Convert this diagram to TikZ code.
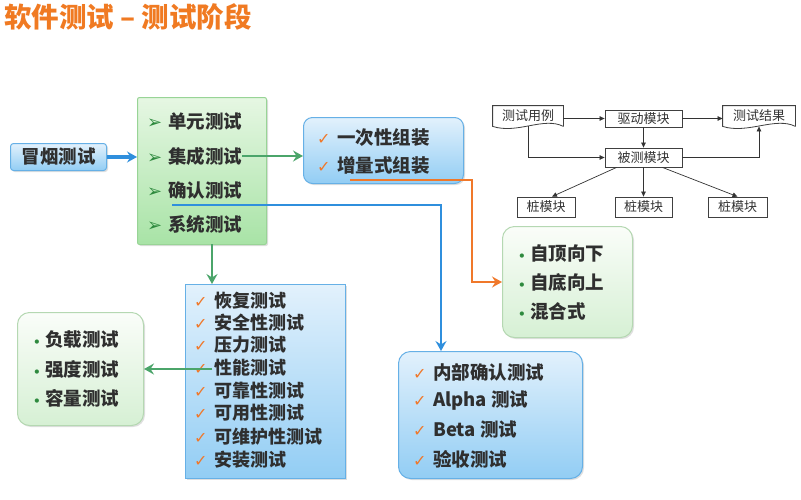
\documentclass[tikz,border=0pt]{standalone}
\usepackage{fontspec}
\setmainfont{Noto Sans CJK SC}
\newfontfamily\dejavu{DejaVu Sans}
\usetikzlibrary{arrows.meta,shadows}

\definecolor{titleorange}{HTML}{F07A22}
\definecolor{textgray}{HTML}{2F2F2F}
\definecolor{boxblue}{HTML}{66B0E6}
\definecolor{blueup}{HTML}{E2F1FC}
\definecolor{bluedown}{HTML}{92CDF4}
\definecolor{boxgreen}{HTML}{98D496}
\definecolor{greenup}{HTML}{E6F7E3}
\definecolor{greendown}{HTML}{A8E3A6}
\definecolor{paleedge}{HTML}{B5D8B2}
\definecolor{paleup}{HTML}{FAFDF9}
\definecolor{paledown}{HTML}{D6F0D4}
\definecolor{arrowgreen}{HTML}{4BA56A}
\definecolor{arrowblue}{HTML}{2F8FDD}
\definecolor{arroworange}{HTML}{F0782A}
\definecolor{markgreen}{HTML}{2E8A3E}

\newcommand\tickmark{\makebox[20pt][l]{\dejavu\fontsize{16}{16}\selectfont\color{arroworange}✓}}
\newcommand\pointmark{\makebox[21pt][l]{\dejavu\fontsize{18}{18}\selectfont\color{markgreen}➢}}
\newcommand\dotmark{\makebox[12pt][l]{\dejavu\fontsize{12}{12}\selectfont\color{markgreen}•}}

\tikzset{
    % standard arrow tip
    >={Stealth[length=10pt,width=11pt,inset=3.5pt]},
    % boxes
    bluebox/.style={
           rectangle,
           draw=boxblue,
           line width=1pt,
           top color=blueup,
           bottom color=bluedown,
           anchor=north west,
           inner sep=0pt,
           drop shadow={opacity=0.25,shadow xshift=1.5pt,shadow yshift=-1.5pt}},
    greenbox/.style={
           bluebox,
           draw=boxgreen,
           top color=greenup,
           bottom color=greendown},
    palebox/.style={
           bluebox,
           draw=paleedge,
           top color=paleup,
           bottom color=paledown,
           rounded corners=12pt},
    % list entries
    entry/.style={
           anchor=west,
           inner sep=0pt,
           text=textgray,
           font=\bfseries\fontsize{18.5}{20}\selectfont},
    % small module diagram
    modbox/.style={
           rectangle,
           draw=black!75,
           line width=0.8pt,
           inner sep=0pt,
           text=black!80,
           font=\fontsize{13}{13}\selectfont},
    modarrow/.style={
           -{Triangle[length=5pt,width=4.5pt]},
           line width=0.7pt,
           draw=black!80},
    % thick connectors
    pil/.style={
           ->,
           line width=2.8pt}
}

\begin{document}
\begin{tikzpicture}[x=1pt,y=-1pt]
  \path[use as bounding box,fill=white] (0,0) rectangle (801,499);

  \node[anchor=west,inner sep=0pt,text=titleorange,
        font=\bfseries\fontsize{27.5}{28}\selectfont] (title) at (4,17) {软件测试 – 测试阶段};

  % boxes
  \node[bluebox,rounded corners=3pt,minimum width=96pt,minimum height=27pt,
        text=textgray,font=\bfseries\fontsize{18.5}{20}\selectfont] (smoke) at (10,143) {冒烟测试};
  \node[greenbox,rounded corners=2pt,minimum width=129pt,minimum height=147pt] (stagebox) at (137,97) {};
  \node[bluebox,rounded corners=9pt,minimum width=160pt,minimum height=66pt] (assembly) at (303,117) {};
  \node[palebox,minimum width=130pt,minimum height=111pt] (topdown) at (502,226) {};
  \node[bluebox,rounded corners=12pt,minimum width=184pt,minimum height=127pt] (accept) at (398,351) {};
  \node[bluebox,minimum width=160pt,minimum height=194pt] (systype) at (185,284) {};
  \node[palebox,minimum width=126pt,minimum height=113pt] (load) at (17,312) {};

  % entries
  \node[entry] (unit) at (147,122) {\pointmark 单元测试};
  \node[entry] (integ) at (147,156) {\pointmark 集成测试};
  \node[entry] (confirm) at (147,190) {\pointmark 确认测试};
  \node[entry] (system) at (147,224) {\pointmark 系统测试};

  \node[entry] (once) at (317,138) {\tickmark 一次性组装};
  \node[entry] (incr) at (317,165) {\tickmark 增量式组装};

  \node[entry] (down) at (518,253) {\dotmark 自顶向下};
  \node[entry] (up) at (518,282) {\dotmark 自底向上};
  \node[entry] (mixed) at (518,311) {\dotmark 混合式};

  \node[entry] (inner) at (413,372) {\tickmark 内部确认测试};
  \node[entry] (alpha) at (413,401) {\tickmark Alpha 测试};
  \node[entry] (beta) at (413,430) {\tickmark Beta 测试};
  \node[entry] (check) at (413,459) {\tickmark 验收测试};

  \begin{scope}[every node/.style={entry,font=\bfseries\fontsize{18}{19}\selectfont}]
    \node (recover) at (194,301) {\tickmark 恢复测试};
    \node (safe) at (194,323) {\tickmark 安全性测试};
    \node (press) at (194,345) {\tickmark 压力测试};
    \node (perf) at (194,368) {\tickmark 性能测试};
    \node (rely) at (194,391) {\tickmark 可靠性测试};
    \node (usable) at (194,413) {\tickmark 可用性测试};
    \node (maint) at (194,437) {\tickmark 可维护性测试};
    \node (install) at (194,460) {\tickmark 安装测试};
  \end{scope}

  \node[entry] (burden) at (33,340) {\dotmark 负载测试};
  \node[entry] (strength) at (33,369) {\dotmark 强度测试};
  \node[entry] (volume) at (33,398) {\dotmark 容量测试};

  % connectors
  \draw[pil,arrowblue,line width=3.4pt] (smoke.east) -- (smoke.east -| stagebox.west);
  \draw[pil,arrowgreen] (integ.east) -- (integ.east -| assembly.west);

  \coordinate (confstart) at (172,205);
  \coordinate (confturn) at (441,205);
  \draw[pil,arrowblue,line width=2.2pt] (confstart) -- (confturn) -- (confturn |- accept.north);

  \coordinate (incrstart) at (350,180);
  \coordinate (incrturn) at (472,180);
  \draw[pil,arroworange] (incrstart) -- (incrturn) |- (topdown.west);

  \coordinate (sysstart) at (212,244);
  \draw[pil,arrowgreen] (sysstart) -- (sysstart |- systype.north);

  \coordinate (perfstart) at (212,369);
  \draw[pil,arrowgreen] (perfstart) -- (perfstart -| load.east);

  % driver / stub diagram
  \node[modbox,draw=none,minimum width=70pt,minimum height=20pt] (cases) at (528,116) {测试用例};
  \draw[black!75,line width=0.8pt] (cases.south east) -- (cases.north east) -- (cases.north west)
      -- (cases.south west) .. controls +(25,8) and +(-20,-10) .. (cases.south east);
  \node[modbox,draw=none,minimum width=72pt,minimum height=20pt] (results) at (759,116) {测试结果};
  \draw[black!75,line width=0.8pt] (results.south east) -- (results.north east) -- (results.north west)
      -- (results.south west) .. controls +(25,8) and +(-20,-10) .. (results.south east);

  \node[modbox,minimum width=77pt,minimum height=17pt] (driver) at (643.5,118.5) {驱动模块};
  \node[modbox,minimum width=77pt,minimum height=19pt] (tested) at (643.5,157.5) {被测模块};
  \node[modbox,minimum width=58pt,minimum height=20pt] (stubA) at (546,207) {桩模块};
  \node[modbox,minimum width=57pt,minimum height=20pt] (stubB) at (643.5,207) {桩模块};
  \node[modbox,minimum width=59pt,minimum height=20pt] (stubC) at (737.5,207) {桩模块};

  \draw[modarrow] (driver.west -| cases.east) -- (driver.west);
  \draw[modarrow] (driver.east) -- (driver.east -| results.west);
  \draw[modarrow] (driver.south) -- (tested.north);
  \draw[modarrow] (cases.south) |- (tested.west);
  \draw[modarrow] (tested.east) -| (results.south);
  \draw[modarrow] ([xshift=12pt]tested.south west) -- ([xshift=6pt]stubA.north);
  \draw[modarrow] (tested.south) -- (stubB.north);
  \draw[modarrow] ([xshift=-20pt]tested.south east) -- (stubC.north);
\end{tikzpicture}
\end{document}
